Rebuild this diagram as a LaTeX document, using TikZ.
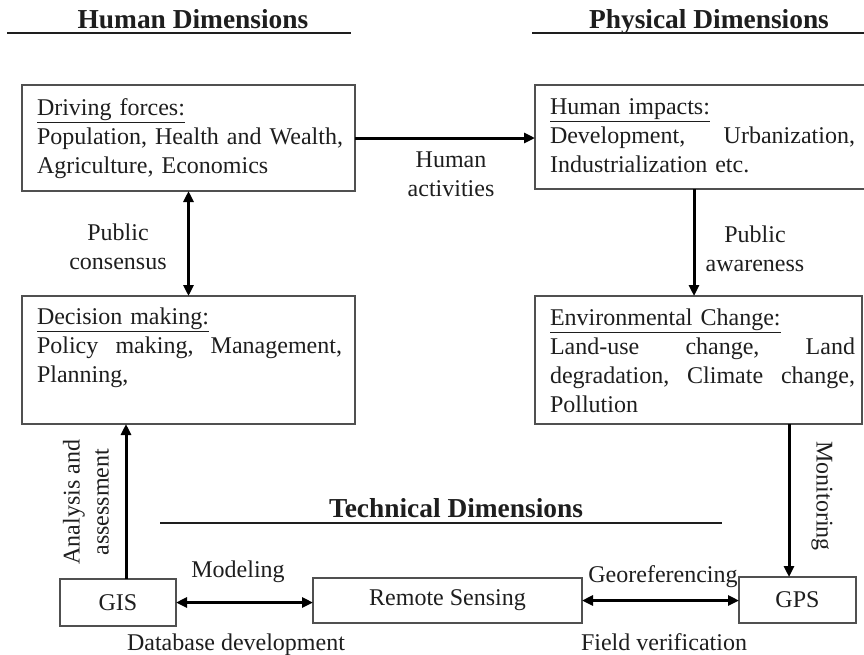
\documentclass[tikz,border=0pt]{standalone}
\usepackage{fontspec}
\setmainfont{Liberation Serif}
\usetikzlibrary{arrows.meta}
\definecolor{boxgray}{HTML}{505050}
\definecolor{ink}{HTML}{1E1E1E}
\begin{document}
\begin{tikzpicture}[x=1pt,y=-1pt,
  every node/.style={inner sep=0pt, outer sep=0pt, text=ink, font=\fontsize{24}{29}\selectfont},
  box/.style={draw=boxgray, line width=1.8pt, anchor=north west},
  boxtext/.style={anchor=north west, text width=305pt, align=left},
  head/.style={anchor=base, font=\fontsize{27.4}{32}\selectfont\bfseries},
  rule/.style={line width=2.2pt, draw=ink},
  arr/.style={line width=3pt, draw=black, -{Triangle[length=11pt,width=10pt]}},
  darr/.style={line width=3pt, draw=black, {Triangle[length=11pt,width=10pt]}-{Triangle[length=11pt,width=10pt]}},
  lbl/.style={anchor=north, align=center}
]
\clip (0,0) rectangle (864,654);
\fill[white] (0,0) rectangle (864,654);

% headers
\node[head] (hh) at (193,28) {Human Dimensions};
\node[head] (ph) at (709,28) {Physical Dimensions};
\node[head] (th) at (456,517) {Technical Dimensions};
\coordinate (hhl) at (7,33);   \coordinate (hhr) at (351,33);
\coordinate (phl) at (532,33); \coordinate (phr) at (870,33);
\coordinate (thl) at (160,523); \coordinate (thr) at (722,523);
\draw[rule] (hhl) -- (hhr);
\draw[rule] (phl) -- (phr);
\draw[rule] (thl) -- (thr);

% boxes
\node[box, minimum width=333pt, minimum height=106pt] (drv) at (22,85) {};
\node[box, minimum width=340pt, minimum height=104pt] (imp) at (535,85) {};
\node[box, minimum width=333pt, minimum height=128pt] (dec) at (22,296) {};
\node[box, minimum width=327pt, minimum height=128pt] (env) at (535,296) {};
\node[box, minimum width=116pt, minimum height=47pt] (gis) at (60,579) {GIS};
\node[box, minimum width=269pt, minimum height=45pt] (rs) at (313,578) {Remote Sensing};
\node[box, minimum width=117pt, minimum height=46pt] (gps) at (739,577) {GPS};

% box texts
\node[boxtext, text width=318pt] (drvt) at (37,98.5) {\underline{Driving forces:}\\Population, Health and Wealth,\\Agriculture, Economics};
\node[boxtext] (impt) at (550,98.5) {\underline{Human impacts:}\\Development,\hfill Urbanization,\\Industrialization etc.};
\node[boxtext] (dect) at (37,308) {\underline{Decision making:}\\Policy\hfill making,\hfill Management,\\Planning,};
\node[boxtext] (envt) at (550,308.5) {\underline{Environmental Change:}\\Land-use\hfill change,\hfill Land\\degradation,\hfill Climate\hfill change,\\Pollution};

% connectors
\draw[arr] (drv.east) -- (drv.east -| imp.west);
\draw[darr] (drv.south) -- (dec.north);
\coordinate (pa1) at ([xshift=159pt]imp.south west);
\draw[arr] (pa1) -- (pa1 |- env.north);
\coordinate (monx) at ([xshift=-8.5pt]gps.north);
\draw[arr] (env.south -| monx) -- (monx);
\coordinate (anx) at ([xshift=8pt]gis.north);
\draw[arr] (anx) -- (anx |- dec.south);
\draw[darr] (gis.east) -- (gis.east -| rs.west);
\draw[darr] (rs.east) -- (rs.east -| gps.west);

% labels
\node[lbl] (lha) at (451,152) {Human\\activities};
\node[lbl] (lpc) at (118,223.5) {Public\\consensus};
\node[lbl] (lpa) at (755,225.5) {Public\\awareness};
\node[align=center, rotate=90] (laa) at (86,502) {Analysis and\\assessment};
\node[rotate=-90] (lmo) at (822,496) {Monitoring};
\node[anchor=base] (lmd) at (238,577) {Modeling};
\node[anchor=base] (ldb) at (236,650) {Database development};
\node[anchor=base] (lge) at (663,582) {Georeferencing};
\node[anchor=base] (lfv) at (664,650) {Field verification};
\end{tikzpicture}
\end{document}
